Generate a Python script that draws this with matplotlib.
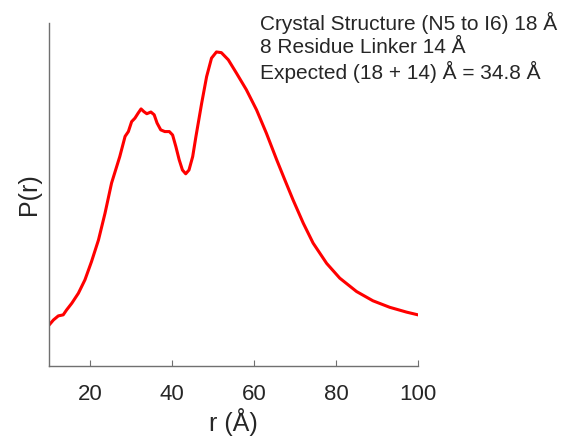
import numpy as np
import matplotlib.pyplot as plt

plt.rcParams['font.family'] = ['Liberation Sans', 'DejaVu Sans']

# P(r) curve (arbitrary units, 0..1)
r = [10, 11, 12.2, 13.4, 14.2, 15.5, 17.1, 18.7, 20.3, 22.0, 23.6, 25.2,
     27.2, 28.5, 29.3, 30.1, 30.9, 31.7, 32.4, 33.1, 33.8, 34.8, 35.6, 36.3,
     37.2, 38.2, 39.3, 40.1, 40.9, 41.7, 42.5, 43.3, 44.1, 45.0, 45.8,
     47.2, 48.4, 49.6, 50.8, 52.0, 53.7, 55.7, 58.1, 60.6, 63.0, 65.5,
     67.5, 69.5, 72.0, 74.4, 77.7, 80.9, 85.0, 89.0, 93.1, 97.2, 100]
p = [0.120, 0.134, 0.146, 0.149, 0.163, 0.183, 0.212, 0.251, 0.304, 0.367,
     0.445, 0.533,
     0.610, 0.669, 0.683, 0.712, 0.722, 0.737, 0.749, 0.741, 0.735, 0.740,
     0.732, 0.708, 0.688, 0.683, 0.683, 0.673, 0.639, 0.601, 0.571, 0.560,
     0.571, 0.610, 0.669,
     0.766, 0.843, 0.897, 0.915, 0.913, 0.892, 0.853, 0.805, 0.746, 0.678,
     0.601,
     0.542, 0.484, 0.416, 0.358, 0.299, 0.256, 0.217, 0.190, 0.171, 0.157,
     0.149]

xticks = [20, 40, 60, 80, 100]
notes = ["Crystal Structure (N5 to I6) 18 Å",
         "8 Residue Linker 14 Å",
         "Expected (18 + 14) Å = 34.8 Å"]

fig = plt.figure(figsize=(5.66, 4.38), dpi=100)
ax = fig.add_axes([0.0871, 0.1644, 0.6514, 0.7836])

ax.plot(r, p, color='red', linewidth=2.2, solid_joinstyle='round')
ax.set_xlim(10, 100)
ax.set_ylim(0, 1)
ax.set_xticks(xticks)
ax.set_yticks([])
ax.tick_params(axis='x', direction='in', length=4, width=0.8, colors='#707070',
               labelcolor='#262626', labelsize=16, pad=13)
for s in ['top', 'right']:
    ax.spines[s].set_visible(False)
for s in ['left', 'bottom']:
    ax.spines[s].set_color('#707070')
    ax.spines[s].set_linewidth(1.0)

ax.set_xlabel("r (Å)", fontsize=18, color='#262626', labelpad=2)
ax.set_ylabel("P(r)", fontsize=18, color='#262626', labelpad=6)

for i, t in enumerate(notes):
    fig.text(0.459, 0.948 - i * 0.056, t, fontsize=15, color='#262626',
             ha='left', va='center')

fig.savefig("out.png", dpi=100)
